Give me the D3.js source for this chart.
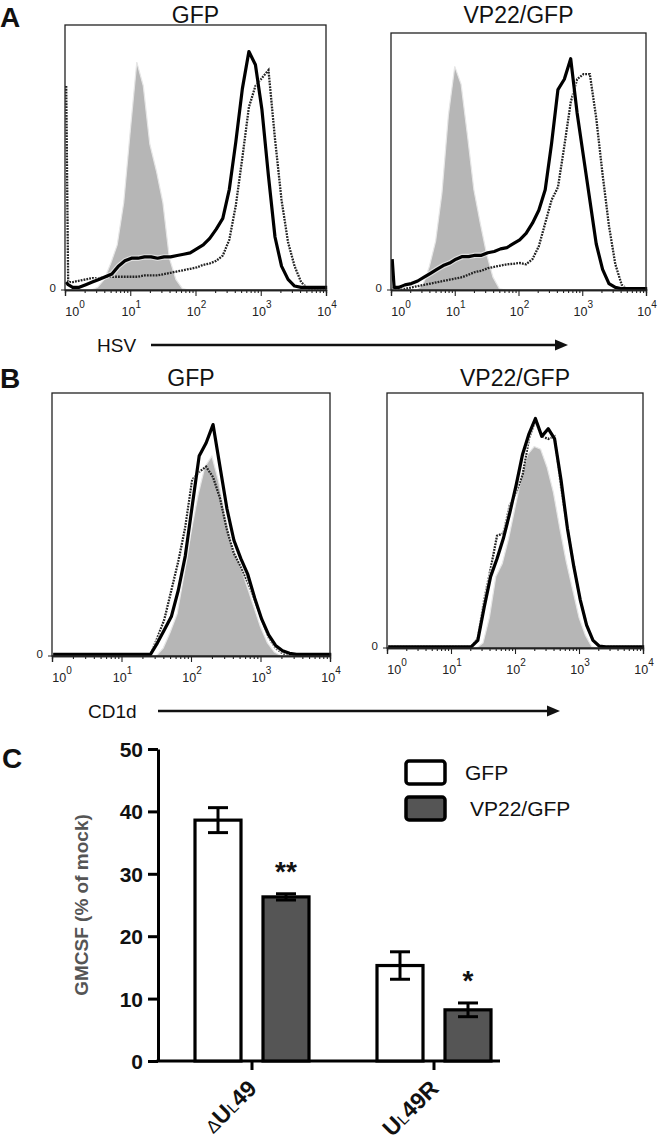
<!DOCTYPE html>
<html><head><meta charset="utf-8">
<script src="https://cdn.jsdelivr.net/npm/d3@7"></script>
<style>body{margin:0;background:#fff} svg{display:block} text{font-family:Arial,"Liberation Sans",sans-serif}</style>
</head><body><svg id="c" width="660" height="1148"></svg>
<script>
// ---------- DATA ----------
// log10 positions of histogram points (fluorescence 10^0 .. 10^4)
const logGrid = [0,0.03,0.1,0.2,0.3,0.4,0.5,0.6,0.7,0.8,0.9,1.0,1.1,1.2,1.3,1.4,1.5,1.6,1.7,1.8,1.9,2.0,2.1,2.2,2.3,2.4,2.5,2.6,2.7,2.8,2.9,3.0,3.1,3.2,3.3,3.4,3.5,3.6,3.7,3.8,3.9,4.0];
const decadeTicks = [1,10,100,1000,10000];
const decadeExps = ["0","1","2","3","4"];
// heights in % of panel height
// Panel A, GFP (HSV)
const aGfpGray   = [0,0,0,0,0,0,1,4,10,17,33,60,86,77,55,45,33,12,4,0.5,0,0,0,0,0,0,0,0,0,0,0,0,0,0,0,0,0,0,0,0,0,0];
const aGfpSolid  = [3,2,1,1,2,3,4,5,6,9,11,12,12,12.5,12.5,12,12.5,12.5,13,13.5,14,15.5,17,19.5,23,27,38,56,76,90,85,68,43,20,9,4,1.5,1,1,1,1,1];
const aGfpDotted = [77,3,3,3.5,4,4.5,4.5,5,5,5,5,5,5,5.5,5.5,5.5,6,6.5,7,7.5,8,8.5,9.5,10,11,13,19,32,50,69,77,80,83,57,34,18,9,3,0.6,0,0,0];
// Panel A, VP22/GFP (HSV)
const aVpGray    = [0,0,0,0,0,0,2,9,19,38,68,87,80,60,39,26,14,5,0.5,0,0,0,0,0,0,0,0,0,0,0,0,0,0,0,0,0,0,0,0,0,0,0];
const aVpSolid   = [12,1,1,2,2.5,3.5,5,6.5,8,9.5,10.5,12,13,13,13.5,13.5,14.5,15,16,16.5,18,19.5,22,26,31,39,57,78,82,90,69,52,35,18,8,2.5,1,0.5,0.5,0.5,0.5,0.5];
const aVpDotted  = [1,0.5,0.5,0.5,1,1.5,2,2.5,3,3.5,4,4.5,5,6,7,7.5,8.5,9,9.5,10,10.2,10.5,10,12,17,26,35,40,56,73,82,84,84,67,45,25,10,2,0,0,0,0];
// Panel B, GFP (CD1d)
const bGfpGray   = [0,0,0,0,0,0,0,0,0,0,0,0,0,0,0,0,0,3,9,16,31,47,61,72,76,66,52,40,35,27,19,11,5,1.5,0,0,0,0,0,0,0,0];
const bGfpSolid  = [0.6,0.6,0.6,0.6,0.6,0.6,0.6,0.6,0.6,0.6,0.6,0.6,0.6,0.6,0.6,0.6,5,10,15,25,38,57,76,81,88,72,56,44,37,31,22,14,8,4,2,1,0.6,0.6,0.6,0.6,0.6,0.6];
const bGfpDotted = [0.6,0.6,0.6,0.6,0.6,0.6,0.6,0.6,0.6,0.6,0.6,0.6,0.6,0.6,0.6,0.6,7,14,25,36,49,67,70,72,68,60,48,39,34,28,21,14,7,3,1,0.6,0.6,0.6,0.6,0.6,0.6,0.6];
// Panel B, VP22/GFP (CD1d)
const bVpGray    = [0,0,0,0,0,0,0,0,0,0,0,0,0,0,0,0,2,12,28,33,43,55,67,76,79,78,71,61,47,34,23,12,5,0.5,0,0,0,0,0,0,0,0];
const bVpSolid   = [0.5,0.5,0.5,0.5,0.5,0.5,0.5,0.5,0.5,0.5,0.5,0.5,0.5,0.5,0.5,3,16,28,35,43,53,64,76,84,90,83,86,82,66,47,32,19,9,3,0.7,0.5,0.5,0.5,0.5,0.5,0.5,0.5];
const bVpDotted  = [0.5,0.5,0.5,0.5,0.5,0.5,0.5,0.5,0.5,0.5,0.5,0.5,0.5,0.5,0.5,4,19,31,44,45,56,61,68,82,89,83,82,83,63,47,32,19,9,3,0.7,0.5,0.5,0.5,0.5,0.5,0.5,0.5];
// Panel C: GMCSF (% of mock)
const cCategories = ["dUL49","UL49R"];
const cSeries     = ["GFP","VP22/GFP"];
const cGfp        = [38.6, 15.3];
const cGfpErr     = [2.0, 2.2];
const cVp         = [26.3, 8.2];
const cVpErr      = [0.5, 1.1];
const cStars      = ["**","*"];
const cYTicks     = [0,10,20,30,40,50];

// ---------- DRAW ----------
const svg = d3.select("#c");
const FONT = 'Arial,"Liberation Sans",sans-serif';

function drawHist(p){
  const g = svg.append("g");
  const x = d3.scaleLog().domain([1,10000]).range([p.x0,p.x1]);
  const y = d3.scaleLinear().domain([0,100]).range([p.y1,p.y0]);
  const clipId = "clip"+p.id;
  g.append("clipPath").attr("id",clipId).append("rect")
    .attr("x",p.x0).attr("y",p.y0).attr("width",p.x1-p.x0+2).attr("height",p.y1-p.y0+1);
  const pts = arr => logGrid.map((l,i)=>[Math.pow(10,l),arr[i]]);
  const area = d3.area().x(d=>x(d[0])).y0(y(0)).y1(d=>y(d[1]));
  const line = d3.line().x(d=>x(d[0])+1.2).y(d=>y(d[1]));
  const inner = g.append("g").attr("clip-path",`url(#${clipId})`);
  inner.append("path").attr("d",area(pts(p.gray))).attr("fill","#b6b6b6").attr("stroke","#e6e6e6").attr("stroke-width",1.2);
  inner.append("path").attr("d",line(pts(p.dotted))).attr("fill","none").attr("stroke","#222").attr("stroke-width",2.3).attr("stroke-dasharray","1.8,1.1");
  inner.append("path").attr("d",line(pts(p.solid))).attr("fill","none").attr("stroke","#fff").attr("stroke-width",5.5).attr("opacity",0.55);
  inner.append("path").attr("d",line(pts(p.solid))).attr("fill","none").attr("stroke","#000").attr("stroke-width",3.2).attr("stroke-linejoin","round");
  // frame
  g.append("rect").attr("x",p.x0).attr("y",p.y0).attr("width",p.x1-p.x0).attr("height",p.y1-p.y0)
    .attr("fill","none").attr("stroke","#222").attr("stroke-width",1.3);
  // axis ticks
  const minor = [];
  for (let d=0; d<4; d++) for (let m=2; m<10; m++) minor.push(m*decadeTicks[d]);
  const ax = g.append("g").attr("transform",`translate(0,${p.y1})`);
  ax.call(d3.axisBottom(x).tickValues(minor).tickSize(3).tickFormat(""));
  ax.append("g").call(d3.axisBottom(x).tickValues(decadeTicks).tickSize(6).tickFormat(""));
  ax.selectAll(".domain").attr("stroke","#222").attr("stroke-width",1.3);
  ax.selectAll("line").attr("stroke","#222").attr("stroke-width",1.1);
  // tick labels
  decadeTicks.forEach((v,i)=>{
    const t = g.append("text").attr("x",x(v)+(i===0?10:1)).attr("y",p.y1+26)
      .attr("text-anchor","middle").attr("font-size",12.5).attr("fill","#222");
    t.append("tspan").text("10");
    t.append("tspan").attr("dy",-8).attr("font-size",10).text(decadeExps[i]);
  });
  // zero label
  g.append("text").attr("x",p.x0-9).attr("y",p.y1+2).attr("text-anchor","end")
    .attr("font-size",11.5).attr("fill","#222").text("0");
  g.append("line").attr("x1",p.x0-4).attr("x2",p.x0).attr("y1",p.y1).attr("y2",p.y1).attr("stroke","#222");
  // title
  g.append("text").attr("x",(p.x0+p.x1)/2).attr("y",p.ty).attr("text-anchor","middle")
    .attr("font-size",23).attr("fill","#111").text(p.title);
}

const panels = [
  {id:1, x0:65,  x1:326, y0:25,  y1:290, ty:23,  title:"GFP",      gray:aGfpGray, solid:aGfpSolid, dotted:aGfpDotted},
  {id:2, x0:391, x1:646, y0:33,  y1:290, ty:23,  title:"VP22/GFP", gray:aVpGray,  solid:aVpSolid,  dotted:aVpDotted},
  {id:3, x0:52,  x1:330, y0:393, y1:656, ty:386, title:"GFP",      gray:bGfpGray, solid:bGfpSolid, dotted:bGfpDotted},
  {id:4, x0:387, x1:643, y0:393, y1:648, ty:386, title:"VP22/GFP", gray:bVpGray,  solid:bVpSolid,  dotted:bVpDotted}
];
panels.forEach(drawHist);

// axis arrows
function arrow(label, tx, ty, xa, xb, ya){
  svg.append("text").attr("x",tx).attr("y",ty).attr("font-size",19).attr("fill","#111").text(label);
  svg.append("line").attr("x1",xa).attr("x2",xb-10).attr("y1",ya).attr("y2",ya).attr("stroke","#111").attr("stroke-width",2.6);
  svg.append("path").attr("d",`M${xb},${ya} L${xb-13},${ya-5.5} L${xb-13},${ya+5.5} Z`).attr("fill","#111");
}
arrow("HSV", 97, 352, 151, 568, 345);
arrow("CD1d", 88, 718, 158, 560, 711);

// panel letters
[["A",0,27],["B",0,388],["C",2,768]].forEach(([t,x,y])=>{
  svg.append("text").attr("x",x).attr("y",y).attr("font-size",28).attr("font-weight","bold").attr("fill","#111").text(t);
});

// ---------- Panel C bar chart ----------
const cx = d3.scaleBand().domain(cCategories).range([161,525]);
const cx1 = d3.scaleBand().domain(cSeries).range([-57,57]).paddingInner(0.3235);
const cy = d3.scaleLinear().domain([0,50]).range([1061,749]);
const gc = svg.append("g");
// y axis
const yAx = gc.append("g").attr("transform","translate(158,0)")
  .call(d3.axisLeft(cy).tickValues(cYTicks).tickSize(10).tickSizeOuter(0).tickPadding(5));
yAx.selectAll(".domain").attr("stroke","#000").attr("stroke-width",3);
yAx.selectAll("line").attr("stroke","#000").attr("stroke-width",3);
yAx.selectAll("text").attr("font-size",21).attr("font-weight","bold").attr("fill","#111").attr("font-family",FONT).attr("dy","0.36em");
// x axis line + category ticks
gc.append("line").attr("x1",156.5).attr("x2",500).attr("y1",cy(0)).attr("y2",cy(0)).attr("stroke","#000").attr("stroke-width",3);
cCategories.forEach(c=>{
  const tx = cx(c)+cx.bandwidth()/2;
  gc.append("line").attr("x1",tx).attr("x2",tx).attr("y1",cy(0)).attr("y2",cy(0)+9).attr("stroke","#000").attr("stroke-width",3);
});
// bars
const barData = [];
cCategories.forEach((c,i)=>{
  barData.push({cat:c, s:cSeries[0], v:cGfp[i], e:cGfpErr[i], fill:"#fff"});
  barData.push({cat:c, s:cSeries[1], v:cVp[i],  e:cVpErr[i],  fill:"#555", star:cStars[i]});
});
barData.forEach(d=>{
  const c0 = cx(d.cat)+cx.bandwidth()/2;
  const bx = c0 + cx1(d.s);
  const bw = cx1.bandwidth();
  gc.append("rect").attr("x",bx).attr("y",cy(d.v)).attr("width",bw).attr("height",cy(0)-cy(d.v))
    .attr("fill",d.fill).attr("stroke","#000").attr("stroke-width",3.2);
  const mx = bx+bw/2, cw = 10;
  gc.append("line").attr("x1",mx).attr("x2",mx).attr("y1",cy(d.v+d.e)).attr("y2",cy(d.v-d.e)).attr("stroke","#000").attr("stroke-width",3);
  [d.v+d.e, d.v-d.e].forEach(vv=>{
    gc.append("line").attr("x1",mx-cw).attr("x2",mx+cw).attr("y1",cy(vv)).attr("y2",cy(vv)).attr("stroke","#000").attr("stroke-width",3);
  });
  if (d.star){
    gc.append("text").attr("x",mx).attr("y",cy(d.v+d.e)+(d.star.length>1?-4:4)).attr("text-anchor","middle")
      .attr("font-size",28).attr("font-weight","bold").attr("fill","#111").text(d.star)
      .attr("dy", d.star.length>1 ? "-0.3em" : "-0.6em");
  }
});
// y title
gc.append("text").attr("transform","translate(88,905) rotate(-90)").attr("text-anchor","middle")
  .attr("font-size",19).attr("font-weight","bold").attr("fill","#555").text("GMCSF (% of mock)");
// category labels
cCategories.forEach(c=>{
  const tx = cx(c)+cx.bandwidth()/2;
  const t = gc.append("text").attr("transform",`translate(${tx+2},${cy(0)+25}) rotate(-45)`)
    .attr("text-anchor","end").attr("fill","#111").attr("dy","0.35em");
  if (c==="dUL49") t.append("tspan").attr("font-size",18).attr("font-weight","normal").text("\u0394");
  t.append("tspan").attr("font-size",23).attr("font-weight","bold").text("U");
  t.append("tspan").attr("font-size",16).attr("font-weight","normal").text("L");
  t.append("tspan").attr("font-size",23).attr("font-weight","bold").text(c==="dUL49"?"49":"49R");
});
// legend
const lg = svg.append("g");
[[cSeries[0],"#fff",761,465,780],[cSeries[1],"#555",797,470,816]].forEach(([lab,f,by,tx,ty])=>{
  lg.append("rect").attr("x",406).attr("y",by).attr("width",39).attr("height",23).attr("rx",3)
    .attr("fill",f).attr("stroke","#000").attr("stroke-width",3.5);
  lg.append("text").attr("x",tx).attr("y",ty).attr("font-size",21).attr("fill","#111").text(lab);
});
</script></body></html>
